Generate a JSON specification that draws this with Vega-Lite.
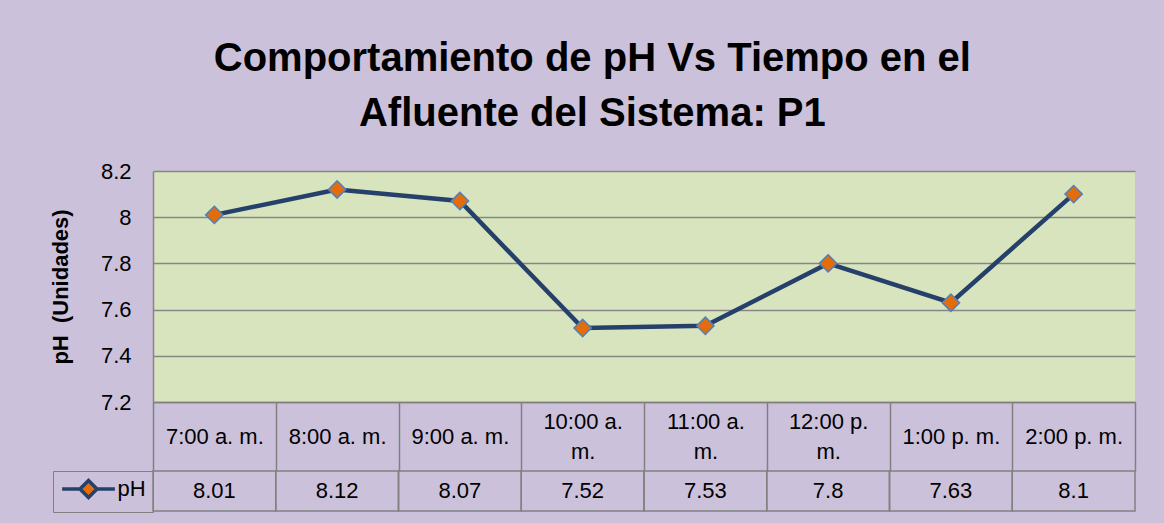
{
  "$schema": "https://vega.github.io/schema/vega-lite/v6.json",
  "background": "#CCC1DA",
  "padding": {"left": 49, "top": 39, "right": 29, "bottom": 11},
  "title": {
    "text": ["Comportamiento de pH Vs Tiempo en el", "Afluente del Sistema: P1"],
    "font": "Liberation Sans, Arial",
    "fontSize": 40,
    "fontWeight": "bold",
    "lineHeight": 55,
    "anchor": "middle",
    "frame": "bounds",
    "offset": 26,
    "color": "#000000"
  },
  "data": {
    "values": [
      {"hora": "7:00 a. m.", "ph": 8.01},
      {"hora": "8:00 a. m.", "ph": 8.12},
      {"hora": "9:00 a. m.", "ph": 8.07},
      {"hora": "10:00 a. m.", "ph": 7.52},
      {"hora": "11:00 a. m.", "ph": 7.53},
      {"hora": "12:00 p. m.", "ph": 7.8},
      {"hora": "1:00 p. m.", "ph": 7.63},
      {"hora": "2:00 p. m.", "ph": 8.1}
    ]
  },
  "bounds": "flush",
  "spacing": 69,
  "vconcat": [
    {
      "width": 982,
      "height": 231,
      "view": {"fill": "#D7E4BD", "stroke": null},
      "encoding": {
        "x": {
          "field": "hora",
          "type": "nominal",
          "sort": null,
          "scale": {"type": "band", "paddingInner": 0, "paddingOuter": 0},
          "axis": {
            "title": null,
            "grid": false,
            "domain": true,
            "domainColor": "#808080",
            "domainWidth": 1.5,
            "ticks": true,
            "tickBand": "extent",
            "tickSize": 69,
            "tickColor": "#808080",
            "tickWidth": 1.5,
            "labelPadding": -49.5,
            "labelBaseline": "middle",
            "labelAngle": 0,
            "labelOverlap": false,
            "labelFlush": false,
            "labelLimit": 0,
            "labelFont": "Liberation Sans, Arial",
            "labelFontSize": 22,
            "labelLineHeight": 15,
            "labelColor": "#000000",
            "labelExpr": "length(datum.label) > 10 ? [slice(datum.label, 0, -3), '\u200b', 'm.'] : ['\u200b', datum.label]"
          }
        },
        "y": {
          "field": "ph",
          "type": "quantitative",
          "scale": {"domain": [7.2, 8.2], "nice": false, "zero": false},
          "axis": {
            "title": "pH\u00a0 (Unidades)",
            "titleFont": "Liberation Sans, Arial",
            "titleFontSize": 22,
            "titleFontWeight": "bold",
            "titleColor": "#000000",
            "titlePadding": 29,
            "values": [7.2, 7.4, 7.6, 7.8, 8, 8.2],
            "format": "~g",
            "grid": true,
            "gridColor": "#868686",
            "gridWidth": 1.5,
            "ticks": false,
            "domain": true,
            "domainColor": "#868686",
            "domainWidth": 1.5,
            "labelPadding": 22,
            "labelFont": "Liberation Sans, Arial",
            "labelFontSize": 22,
            "labelColor": "#000000",
            "minExtent": 52,
            "maxExtent": 52
          }
        }
      },
      "layer": [
        {
          "mark": {"type": "line", "strokeWidth": 4.5, "color": "#25406A"},
          "encoding": {
            "color": {
              "datum": "pH",
              "scale": {"range": ["#25406A"]},
              "legend": {
                "title": null,
                "orient": "none",
                "legendX": -100,
                "legendY": 300,
                "symbolType": "M-3.1,0H-1M1,0H3.1M0,-1L1,0L0,1L-1,0Z",
                "symbolSize": 289,
                "symbolOffset": 17.5,
                "labelOffset": 18,
                "padding": 7,
                "strokeColor": "#808080",
                "cornerRadius": 0,
                "labelFont": "Liberation Sans, Arial",
                "labelFontSize": 22,
                "labelColor": "#000000",
                "encode": {
                  "symbols": {
                    "update": {
                      "fill": {"value": "#E46C0A"},
                      "stroke": {"value": "#25406A"},
                      "strokeWidth": {"value": 3.5}
                    }
                  }
                }
              }
            }
          }
        },
        {
          "mark": {
            "type": "point",
            "shape": "diamond",
            "filled": true,
            "size": 300,
            "fill": "#E46C0A",
            "stroke": "#4F81BD",
            "strokeWidth": 1.5,
            "opacity": 1
          }
        }
      ]
    },
    {
      "width": 982,
      "height": 40,
      "view": {"fill": null, "stroke": null},
      "encoding": {
        "x": {
          "field": "hora",
          "type": "nominal",
          "sort": null,
          "scale": {"type": "band", "paddingInner": 0, "paddingOuter": 0},
          "axis": null
        }
      },
      "layer": [
        {
          "mark": {"type": "rect", "fill": null, "stroke": "#808080", "strokeWidth": 1.5}
        },
        {
          "mark": {
            "type": "text",
            "font": "Liberation Sans, Arial",
            "fontSize": 22,
            "color": "#000000",
            "baseline": "middle"
          },
          "encoding": {
            "text": {"field": "ph", "type": "quantitative", "format": "~g"}
          }
        }
      ]
    }
  ]
}
